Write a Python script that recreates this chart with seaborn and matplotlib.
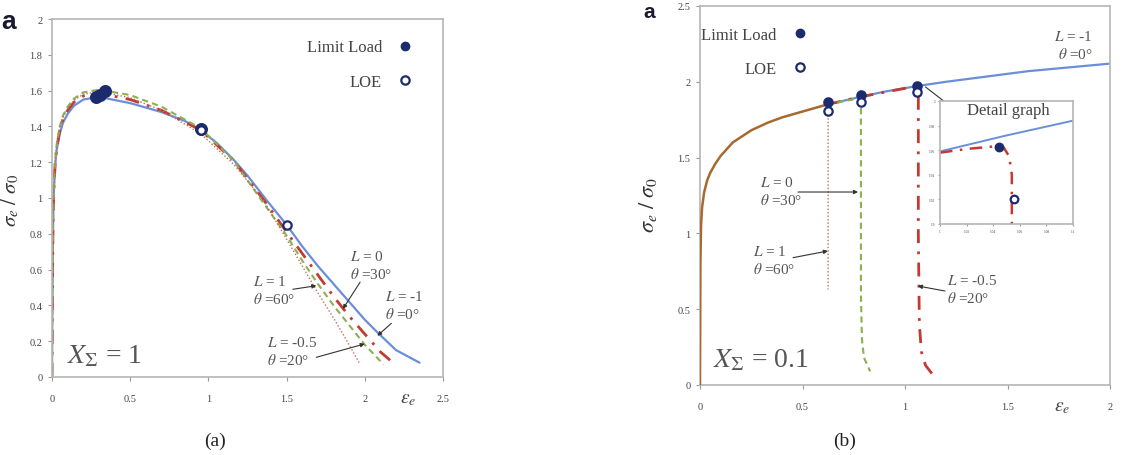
import seaborn as sns
import matplotlib.pyplot as plt
from matplotlib.lines import Line2D

# ---- panel (a): X_Sigma = 1 ----
a_x_blue = [0, 0.003, 0.006, 0.01, 0.02, 0.03, 0.05, 0.07, 0.1, 0.14, 0.2, 0.3, 0.5, 0.7, 0.85, 0.95, 1.05, 1.16,
            1.25, 1.37, 1.5, 1.6, 1.7, 1.8, 1.9, 2.0, 2.08, 2.2, 2.35]
a_y_blue = [0, 0.5, 0.8, 1.0, 1.18, 1.27, 1.36, 1.42, 1.47, 1.515, 1.55, 1.565, 1.53, 1.48, 1.43, 1.38, 1.31, 1.215,
            1.125, 0.99, 0.85, 0.73, 0.62, 0.52, 0.42, 0.32, 0.25, 0.15, 0.08]
a_x_red = [0, 0.003, 0.006, 0.01, 0.02, 0.03, 0.05, 0.07, 0.1, 0.14, 0.2, 0.3, 0.5, 0.7, 0.95, 1.16, 1.37, 1.5,
           1.6, 1.7, 1.8, 1.9, 2.0, 2.1, 2.18]
a_y_red = [0, 0.5, 0.8, 1.01, 1.19, 1.28, 1.38, 1.44, 1.49, 1.535, 1.57, 1.585, 1.55, 1.49, 1.38, 1.21, 0.97, 0.81,
           0.69, 0.57, 0.45, 0.34, 0.24, 0.14, 0.08]
a_x_green = [0, 0.003, 0.006, 0.01, 0.02, 0.03, 0.05, 0.07, 0.1, 0.14, 0.2, 0.3, 0.5, 0.7, 0.95, 1.16, 1.37, 1.5,
             1.6, 1.7, 1.8, 1.9, 2.0, 2.12]
a_y_green = [0, 0.52, 0.82, 1.03, 1.21, 1.30, 1.40, 1.46, 1.51, 1.555, 1.59, 1.605, 1.575, 1.51, 1.39, 1.21, 0.95,
             0.79, 0.65, 0.52, 0.40, 0.29, 0.18, 0.07]
a_x_dot = [0, 0.003, 0.006, 0.01, 0.02, 0.03, 0.05, 0.07, 0.1, 0.14, 0.2, 0.3, 0.5, 0.7, 0.95, 1.16, 1.35, 1.5,
           1.6, 1.7, 1.8, 1.9, 1.97]
a_y_dot = [0, 0.52, 0.82, 1.02, 1.20, 1.29, 1.39, 1.45, 1.50, 1.545, 1.58, 1.595, 1.56, 1.49, 1.36, 1.19, 0.99,
           0.77, 0.62, 0.47, 0.33, 0.18, 0.07]
a_limit_x = [0.28, 0.31, 0.34, 0.95]
a_limit_y = [1.565, 1.575, 1.60, 1.385]
a_loe_x = [0.95, 1.5]
a_loe_y = [1.38, 0.85]

# ---- panel (b): X_Sigma = 0.1 ----
b_x_common = [0, 0.002, 0.005, 0.01, 0.02, 0.035, 0.05, 0.075, 0.1, 0.16, 0.25, 0.33, 0.4, 0.49, 0.62]
b_y_common = [0, 0.8, 1.05, 1.17, 1.27, 1.35, 1.4, 1.46, 1.51, 1.6, 1.68, 1.73, 1.765, 1.8, 1.85]
b_x_blue = [0.62, 0.78, 0.9, 1.05, 1.2, 1.4, 1.6, 1.8, 2.0]
b_y_blue = [1.85, 1.9, 1.935, 1.97, 2.0, 2.035, 2.07, 2.095, 2.12]
b_x_red = [0.62, 0.78, 1.05, 1.065, 1.065, 1.07, 1.08, 1.1, 1.14]
b_y_red = [1.85, 1.9, 1.97, 1.9, 1.0, 0.4, 0.22, 0.13, 0.06]
b_x_green = [0.62, 0.77, 0.785, 0.785, 0.79, 0.8, 0.83]
b_y_green = [1.85, 1.89, 1.85, 0.6, 0.3, 0.18, 0.09]
b_x_dot = [0.62, 0.625, 0.625]
b_y_dot = [1.85, 1.82, 0.63]
b_limit_x = [0.625, 0.785, 1.06]
b_limit_y = [1.87, 1.91, 1.97]
b_loe_x = [0.625, 0.785, 1.06]
b_loe_y = [1.81, 1.87, 1.93]

# detail graph (inset)
d_x_blue = [1.0, 1.05, 1.1]
d_y_blue = [1.959, 1.972, 1.984]
d_x_red = [1.0, 1.02, 1.04, 1.048, 1.052, 1.054, 1.054]
d_y_red = [1.958, 1.961, 1.963, 1.962, 1.955, 1.94, 1.9]
d_limit = (1.044, 1.963)
d_loe = (1.056, 1.92)

BLUE = "#6a8fd8"
RED = "#c23a32"
GREEN = "#8cb050"
DOT = "#c0705a"
BROWN = "#a8692f"
NAVY = "#1c2a6e"
GREY = "#555555"

sns.set_theme(style="white")
plt.rcParams["font.family"] = ["Liberation Serif", "DejaVu Serif"]
plt.rcParams["mathtext.fontset"] = "stix"

W, H = 1130, 456
fig = plt.figure(figsize=(W / 100, H / 100), dpi=100)


def box(x0, y0, x1, y1):
    return fig.add_axes([x0 / W, 1 - y1 / H, (x1 - x0) / W, (y1 - y0) / H])


def line(ax, x, y, color, lw, ls, z=2):
    sns.lineplot(x=x, y=y, ax=ax, color=color, lw=lw, linestyle=ls,
                 sort=False, estimator=None, zorder=z)


def dots(ax, x, y, filled, s=36):
    sns.scatterplot(x=x, y=y, ax=ax, s=s, marker="o",
                    color=NAVY if filled else "white", edgecolor=NAVY,
                    linewidth=1.6, zorder=5)


def style(ax, xt, yt, xl, yl, size=7.5):
    ax.set_xlim(*xl)
    ax.set_ylim(*yl)
    ax.set_xticks(xt)
    ax.set_yticks(yt)
    ax.set_xticklabels([f"{v:g}" for v in xt])
    ax.set_yticklabels([f"{v:g}" for v in yt])
    ax.set_xlabel("")
    ax.set_ylabel("")
    for s in ax.spines.values():
        s.set_color("#b5b5b5")
        s.set_linewidth(1.2)
    ax.tick_params(bottom=True, left=True, direction="out", length=3,
                   width=0.8, color="#999999", labelsize=size,
                   labelcolor="#444444")
    ax.tick_params(axis="x", pad=9)
    ax.tick_params(axis="y", pad=4)


def note(ax, txt, x, y, ha="left", size=11):
    ax.text(x, y, txt, ha=ha, va="top", fontsize=size, color=GREY,
            linespacing=1.25, zorder=6)


def arrow(ax, start, end, head=True):
    ax.annotate("", xy=end, xytext=start,
                arrowprops=dict(arrowstyle="-|>" if head else "-",
                                color="#333333", lw=0.8, mutation_scale=6,
                                shrinkA=0, shrinkB=0), zorder=6)


handles = [Line2D([], [], ls="", marker="o", ms=6, color=NAVY),
           Line2D([], [], ls="", marker="o", ms=6, mfc="white", mec=NAVY, mew=1.6)]

# ---------- panel (a) ----------
ax = box(52, 20, 443, 378)
line(ax, a_x_blue, a_y_blue, BLUE, 1.6, "-")
line(ax, a_x_red, a_y_red, RED, 2.0, (0, (5, 3, 1, 3)))
line(ax, a_x_green, a_y_green, GREEN, 1.5, (0, (3, 2)))
line(ax, a_x_dot, a_y_dot, DOT, 1.0, (0, (1, 1.5)))
dots(ax, a_limit_x, a_limit_y, True, s=60)
dots(ax, a_loe_x, a_loe_y, False)
style(ax, [0, 0.5, 1, 1.5, 2, 2.5], [0, 0.2, 0.4, 0.6, 0.8, 1, 1.2, 1.4, 1.6, 1.8, 2],
      (0, 2.5), (0, 2))
ax.legend(handles, ["Limit Load", "LOE"], loc="upper right", bbox_to_anchor=(0.985, 0.985),
          markerfirst=False, frameon=False, fontsize=12, labelspacing=1.1,
          handletextpad=0.4, labelcolor="#444444")
note(ax, "$L$ = 0\n$\\theta$ =30°", 1.905, 0.715)
arrow(ax, (1.97, 0.53), (1.86, 0.38))
note(ax, "$L$ = 1\n$\\theta$ =60°", 1.285, 0.575)
arrow(ax, (1.54, 0.49), (1.69, 0.51))
note(ax, "$L$ = -1\n$\\theta$ =0°", 2.13, 0.49)
arrow(ax, (2.17, 0.30), (2.08, 0.23))
note(ax, "$L$ = -0.5\n$\\theta$ =20°", 1.375, 0.235)
arrow(ax, (1.69, 0.11), (2.0, 0.185))
ax.text(0.096, 0.084, "$X_\\Sigma$ = 1", fontsize=20, color=GREY, va="baseline")

# ---------- panel (b) ----------
bx = box(700, 7, 1110, 386)
line(bx, b_x_blue, b_y_blue, BLUE, 1.6, "-")
line(bx, b_x_red, b_y_red, RED, 2.0, (0, (5, 3, 1, 3)))
line(bx, b_x_green, b_y_green, GREEN, 1.5, (0, (3, 2)))
line(bx, b_x_dot, b_y_dot, DOT, 1.0, (0, (1, 1.5)))
line(bx, b_x_common, b_y_common, BROWN, 1.8, "-", z=3)
dots(bx, b_limit_x, b_limit_y, True)
dots(bx, b_loe_x, b_loe_y, False)
style(bx, [0, 0.5, 1, 1.5, 2], [0, 0.5, 1, 1.5, 2, 2.5], (0, 2), (0, 2.5))
bx.legend(handles, ["Limit Load", "LOE"], loc="upper right", bbox_to_anchor=(0.32, 0.985),
          markerfirst=False, frameon=False, fontsize=12, labelspacing=1.1,
          handletextpad=0.4, labelcolor="#444444")
note(bx, "$L$ = -1\n$\\theta$ =0°", 1.917, 2.35, ha="right")
arrow(bx, (1.259, 1.80), (1.10, 1.966), head=False)
note(bx, "$L$ = 0\n$\\theta$ =30°", 0.293, 1.385)
arrow(bx, (0.478, 1.273), (0.771, 1.273))
note(bx, "$L$ = 1\n$\\theta$ =60°", 0.259, 0.93)
arrow(bx, (0.454, 0.84), (0.624, 0.884))
note(bx, "$L$ = -0.5\n$\\theta$ =20°", 1.205, 0.74)
arrow(bx, (1.195, 0.62), (1.063, 0.653))
bx.text(0.063, 0.125, "$X_\\Sigma$ = 0.1", fontsize=20, color=GREY, va="baseline")

# inset: detail graph
ix = box(940, 102, 1073, 225)
line(ix, d_x_blue, d_y_blue, BLUE, 1.4, "-")
line(ix, d_x_red, d_y_red, RED, 1.8, (0, (5, 3, 1, 3)))
dots(ix, [d_limit[0]], [d_limit[1]], True, s=30)
dots(ix, [d_loe[0]], [d_loe[1]], False, s=30)
style(ix, [1, 1.02, 1.04, 1.06, 1.08, 1.1], [1.9, 1.92, 1.94, 1.96, 1.98, 2.0],
      (1, 1.1), (1.9, 2.0), size=2.5)
ix.tick_params(length=1.5, pad=2)

# labels outside the axes (drawn over the inset)
fig.text(967 / W, 1 - 111 / H, "Detail graph", fontsize=12, color="#444444", va="center")
fig.text(408 / W, 1 - 400 / H, "$\\varepsilon_e$", fontsize=14, color="#444444",
         ha="center", va="center")
fig.text(1062 / W, 1 - 408 / H, "$\\varepsilon_e$", fontsize=14, color="#444444",
         ha="center", va="center")
fig.text(648 / W, 1 - 205 / H, "$\\sigma_e\\ /\\ \\sigma_0$", fontsize=16, color="#333333",
         rotation=90, ha="center", va="center")
fig.text(10 / W, 1 - 200 / H, "$\\sigma_e\\ /\\ \\sigma_0$", fontsize=15, color="#333333",
         rotation=90, ha="center", va="center")
fig.text(9 / W, 1 - 22 / H, "a", fontsize=19, fontweight="bold", family="Liberation Sans",
         color="#1a1a2e", ha="center", va="center")
fig.text(649 / W, 1 - 13 / H, "a", fontsize=15, fontweight="bold", family="Liberation Sans",
         color="#1a1a2e", ha="center", va="center")
fig.text(215 / W, 1 - 441 / H, "(a)", fontsize=14, color="#222222", ha="center", va="center")
fig.text(845 / W, 1 - 441 / H, "(b)", fontsize=14, color="#222222", ha="center", va="center")

fig.savefig("out.png", dpi=100)
